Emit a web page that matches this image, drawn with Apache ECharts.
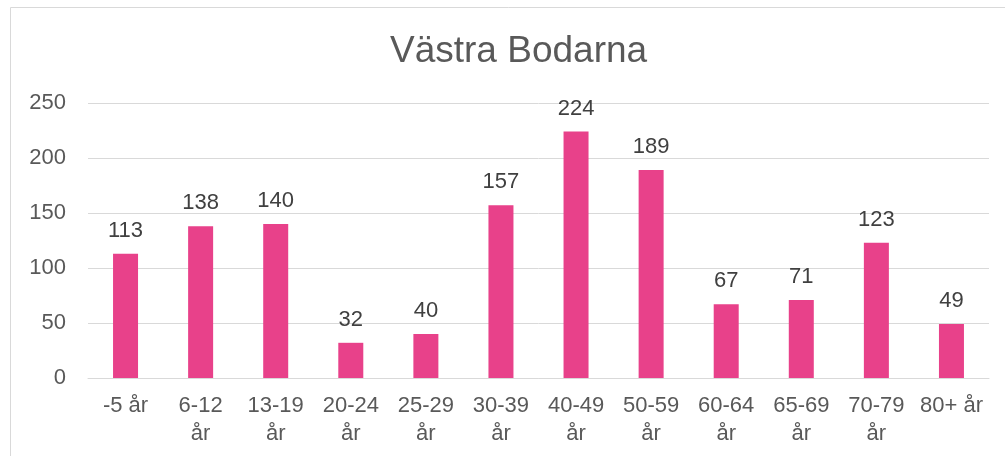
<!DOCTYPE html>
<html>
<head>
<meta charset="utf-8">
<script src="https://cdn.jsdelivr.net/npm/echarts@6/dist/echarts.min.js"></script>
<style>
  html, body { margin: 0; padding: 0; background: #fff; }
  #chart { width: 1005px; height: 456px; }
</style>
</head>
<body>
<div id="chart"></div>
<script>
// åldersgrupper och antal
const categories = ['-5 år', '6-12\når', '13-19\når', '20-24\når', '25-29\når', '30-39\når',
  '40-49\når', '50-59\når', '60-64\når', '65-69\når', '70-79\når', '80+ år'];
const values = [113, 138, 140, 32, 40, 157, 224, 189, 67, 71, 123, 49];
const yTicks = { min: 0, max: 250, interval: 50 };

const font = 'Liberation Sans, Arial, sans-serif';

let myChart = echarts.init(document.getElementById('chart'));
let option = {
  animation: false,
  title: {
    text: 'Västra Bodarna',
    left: 385,
    top: 28,
    textStyle: { color: '#595959', fontSize: 37, fontWeight: 'normal', fontFamily: font }
  },
  graphic: [{
    type: 'rect',
    shape: { x: 10.5, y: 7.5, width: 1000, height: 460 },
    style: { fill: 'none', stroke: '#d9d9d9', lineWidth: 1 },
    silent: true
  }],
  grid: { left: 88, right: 16, top: 103, bottom: 78 },
  xAxis: {
    type: 'category',
    data: categories,
    axisLine: { lineStyle: { color: '#d9d9d9', width: 1 } },
    axisTick: { show: false },
    axisLabel: {
      color: '#595959', fontSize: 22, fontFamily: font,
      lineHeight: 28, margin: 14, interval: 0
    }
  },
  yAxis: {
    type: 'value',
    min: yTicks.min, max: yTicks.max, interval: yTicks.interval,
    axisLine: { show: false },
    axisTick: { show: false },
    axisLabel: { color: '#595959', fontSize: 22, fontFamily: font, margin: 22 },
    splitLine: { lineStyle: { color: '#d9d9d9', width: 1 } }
  },
  series: [{
    type: 'bar',
    data: values,
    barWidth: 25,
    itemStyle: { color: '#E8418A' },
    label: {
      show: true, position: 'top', distance: 12,
      color: '#404040', fontSize: 22, fontFamily: font
    }
  }]
};
myChart.setOption(option);
</script>
</body>
</html>
